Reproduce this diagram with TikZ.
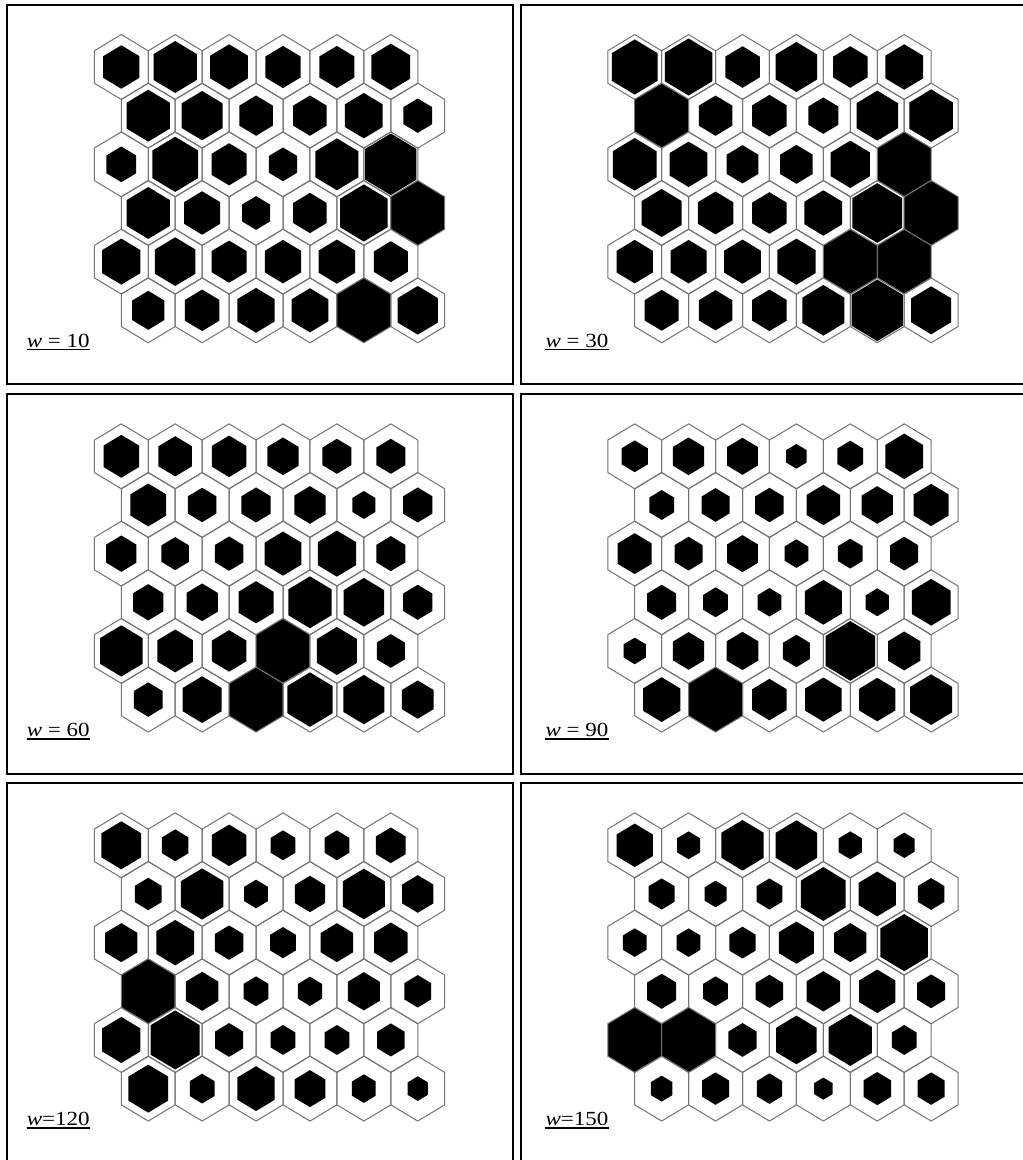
\documentclass[tikz,border=0pt]{standalone}
\usepackage{fontspec}
\setmainfont{Liberation Serif}
\tikzset{
  panelframe/.style={draw=black, line width=1.8pt},
  hexline/.style={draw=black!55, line width=1pt, line join=miter},
  hexfill/.style={fill=black},
  wlabel/.style={anchor=base west, inner sep=0pt, font=\fontsize{20}{22}\selectfont},
  uline/.style={draw=black, line width=1.2pt}
}
\newcommand\hexpanel[6]{%
  \draw[panelframe] (#1,#2) rectangle ++(505.4,379.3);
  \foreach \s [count=\i from 0] in {#4} {
    \pgfmathtruncatemacro\rr{int(\i/6)}
    \pgfmathtruncatemacro\cc{mod(\i,6)}
    \pgfmathsetmacro\cx{#1+114+\cc*53.9+mod(\rr,2)*26.95}
    \pgfmathsetmacro\cy{#2+62+\rr*48.66}
    \fill[hexfill] (\cx,\cy) +(0,-32.44*\s) -- +(26.95*\s,-16.22*\s) -- +(26.95*\s,16.22*\s)
      -- +(0,32.44*\s) -- +(-26.95*\s,16.22*\s) -- +(-26.95*\s,-16.22*\s) -- cycle;
    \draw[hexline] (\cx,\cy) +(0,-32.44) -- +(26.95,-16.22) -- +(26.95,16.22)
      -- +(0,32.44) -- +(-26.95,16.22) -- +(-26.95,-16.22) -- cycle;
  }
  \node[wlabel] (#6) at (#1+#3,#2+342.3) {\scalebox{1.15}[1]{#5}};
  \draw[uline] ([yshift=-2.3pt]#6.base west) -- ([yshift=-2.3pt]#6.base east);
}
\begin{document}
\begin{tikzpicture}[x=1pt,y=-1pt]
\useasboundingbox (0,0) rectangle (1023,1160);
\fill[white] (0,0) rectangle (1023,1160);
% w = 10
\hexpanel{7.3}{5}{19.4}{
.67,.80,.70,.65,.65,.72,
.80,.76,.62,.62,.70,.53,
.55,.85,.65,.52,.80,.95,
.80,.67,.52,.62,.88,1,
.71,.75,.65,.67,.68,.63,
.60,.64,.69,.68,1,.75}{\textit{w} = 10}{lab1}
% w = 30
\hexpanel{520.7}{5}{24.6}{
.85,.88,.64,.77,.64,.70,
1,.62,.64,.56,.77,.81,
.81,.70,.59,.60,.73,1,
.74,.66,.64,.70,.92,1,
.67,.67,.68,.71,1,1,
.63,.62,.64,.78,.95,.74}{\textit{w} = 30}{lab2}
% w = 60
\hexpanel{7.3}{394.3}{19.4}{
.66,.62,.64,.58,.54,.54,
.66,.53,.54,.58,.43,.54,
.56,.51,.53,.68,.71,.54,
.56,.58,.65,.80,.75,.54,
.79,.66,.64,1,.74,.52,
.53,.72,1,.84,.76,.59}{\textit{w} = 60}{lab3}
% w = 90
\hexpanel{520.7}{394.3}{24.6}{
.49,.58,.57,.38,.48,.70,
.46,.52,.53,.62,.58,.65,
.63,.52,.57,.44,.46,.52,
.54,.46,.44,.69,.43,.72,
.41,.58,.59,.50,.92,.60,
.69,1,.64,.68,.67,.78}{\textit{w} = 90}{lab4}
% w = 120
\hexpanel{7.3}{783.3}{19.4}{
.74,.49,.64,.46,.46,.55,
.50,.79,.44,.56,.78,.58,
.60,.70,.53,.48,.60,.62,
1,.60,.46,.45,.59,.50,
.71,.91,.52,.46,.46,.51,
.74,.46,.69,.57,.44,.38}{\textit{w}=120}{lab5}
% w = 150
\hexpanel{520.7}{783.3}{24.6}{
.67,.43,.78,.77,.43,.39,
.48,.41,.48,.83,.69,.49,
.44,.44,.49,.65,.60,.88,
.54,.46,.51,.62,.67,.52,
1,1,.52,.75,.80,.46,
.40,.50,.47,.34,.51,.50}{\textit{w}=150}{lab6}
\end{tikzpicture}
\end{document}
